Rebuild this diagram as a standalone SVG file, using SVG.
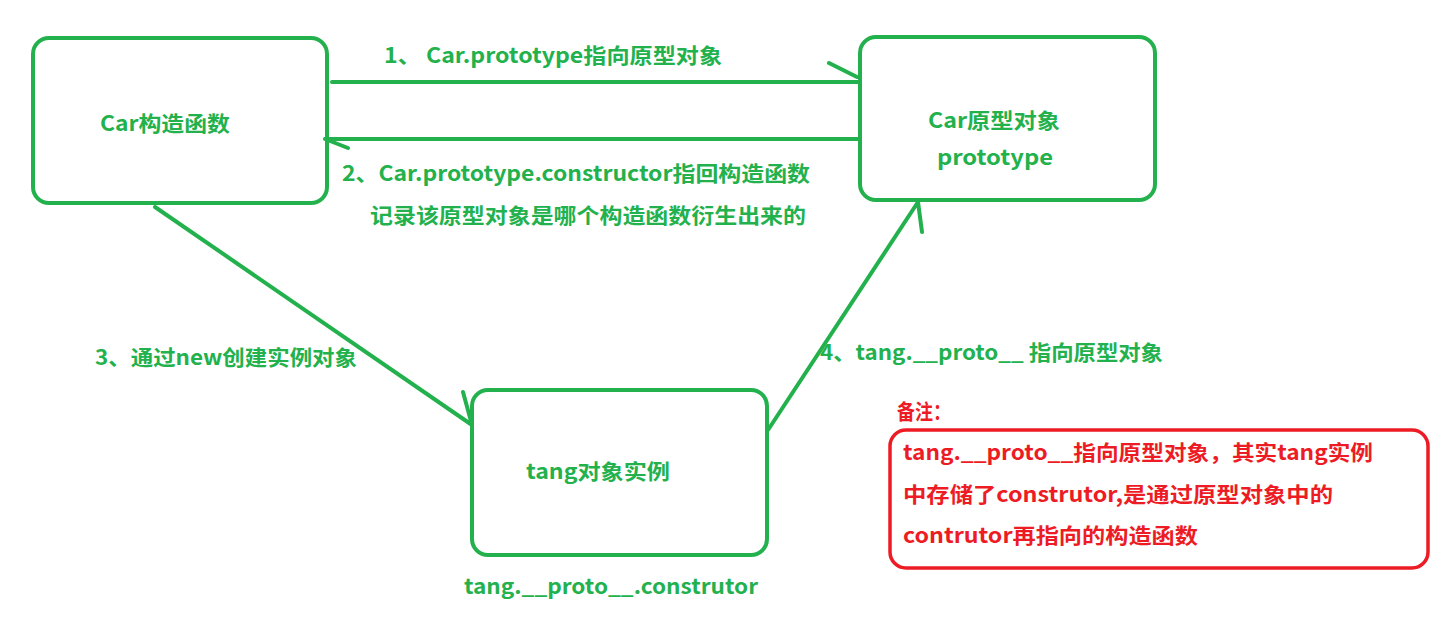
<svg xmlns="http://www.w3.org/2000/svg" width="1450" height="630" viewBox="0 0 1450 630">
<style>
.b{fill:none;stroke:#22b14c;stroke-width:4}
.r{fill:none;stroke:#ed1c24;stroke-width:3.5}
.c{fill:none;stroke:#22b14c;stroke-width:4;stroke-linecap:round}
text{font-family:"Microsoft YaHei","Noto Sans CJK SC",sans-serif;font-weight:bold;font-size:21px;fill:#22b14c}
.t{fill:#ed1c24}
</style>
<rect width="1450" height="630" fill="#fff"/>
<g id="car"><rect class="b" x="33" y="38" width="294" height="165" rx="16"/><text x="100" y="131" textLength="130" lengthAdjust="spacingAndGlyphs">Car构造函数</text></g>
<g id="proto"><rect class="b" x="860" y="37" width="295" height="163" rx="16"/><text x="928" y="128" textLength="132" lengthAdjust="spacingAndGlyphs">Car原型对象</text><text x="937" y="165" textLength="116" lengthAdjust="spacingAndGlyphs">prototype</text></g>
<g id="tang"><rect class="b" x="472" y="390" width="295" height="165" rx="16"/><text x="526" y="479" textLength="144" lengthAdjust="spacingAndGlyphs">tang对象实例</text></g>
<g id="connectors">
<path class="c" d="M332 82H860M829 63L857 77"/>
<path class="c" d="M860 139H325M325 139L348 148"/>
<path class="c" d="M155 207L472 425M463 392L472 425"/>
<path class="c" d="M768 430L918 202M918 202L922 232"/>
</g>
<text x="384" y="63" textLength="338" lengthAdjust="spacingAndGlyphs">1、 Car.prototype指向原型对象</text>
<text x="342" y="181" textLength="468" lengthAdjust="spacingAndGlyphs">2、Car.prototype.constructor指回构造函数</text>
<text x="370" y="223" textLength="436" lengthAdjust="spacingAndGlyphs">记录该原型对象是哪个构造函数衍生出来的</text>
<text x="95" y="365" textLength="262" lengthAdjust="spacingAndGlyphs">3、通过new创建实例对象</text>
<text x="820" y="360" textLength="343" lengthAdjust="spacingAndGlyphs">4、tang.__proto__ 指向原型对象</text>
<text x="464" y="594" textLength="294" lengthAdjust="spacingAndGlyphs">tang.__proto__.construtor</text>
<g id="note"><text class="t" x="897" y="419" textLength="54" lengthAdjust="spacingAndGlyphs">备注：</text>
<rect class="r" x="890" y="430" width="538" height="138" rx="16"/>
<text class="t" x="903" y="460" textLength="470" lengthAdjust="spacingAndGlyphs">tang.__proto__指向原型对象，其实tang实例</text>
<text class="t" x="903" y="502" textLength="430" lengthAdjust="spacingAndGlyphs">中存储了construtor,是通过原型对象中的</text>
<text class="t" x="903" y="543" textLength="295" lengthAdjust="spacingAndGlyphs">contrutor再指向的构造函数</text></g>
</svg>
